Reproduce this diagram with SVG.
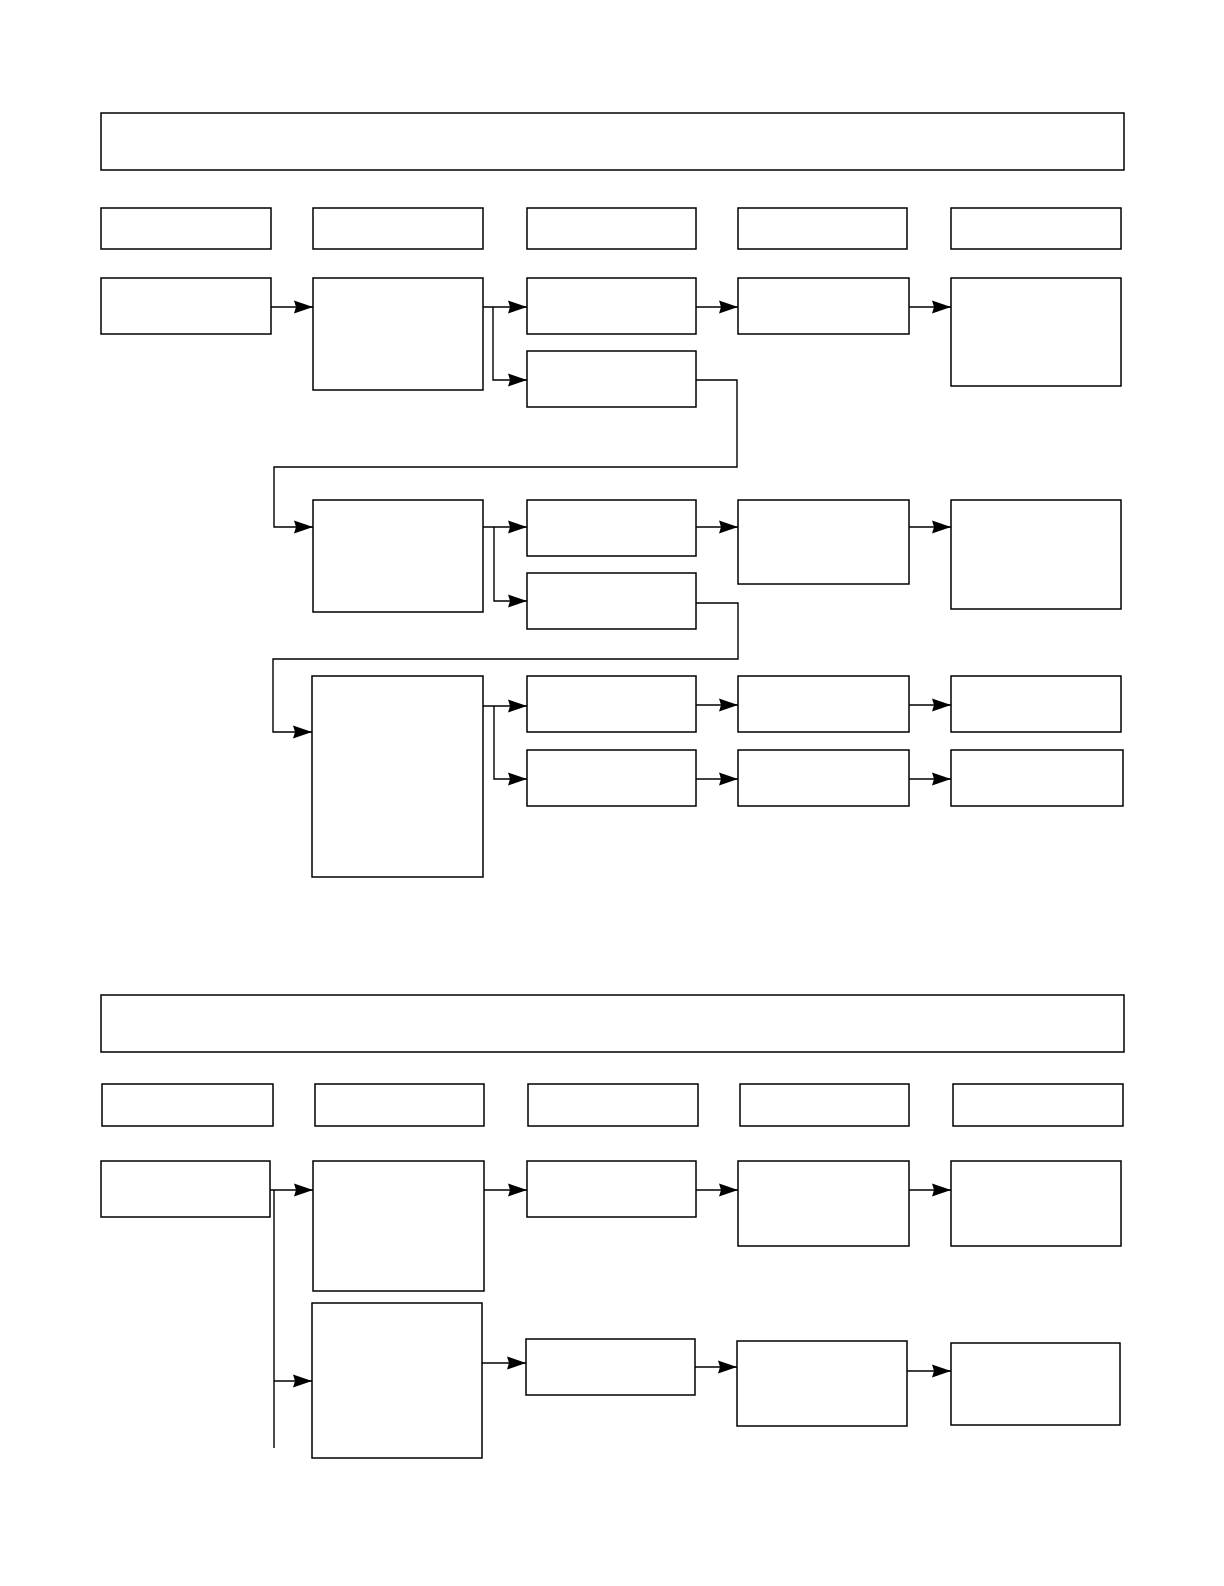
<svg xmlns="http://www.w3.org/2000/svg" width="1224" height="1586" viewBox="0 0 1224 1586">
<style>
.n{fill:#fff;stroke:#000;stroke-width:1.5}
.c{fill:none;stroke:#000;stroke-width:1.4;marker-end:url(#ah)}
.l{fill:none;stroke:#000;stroke-width:1.4}
</style>
<defs>
<marker id="ah" markerUnits="userSpaceOnUse" markerWidth="20" markerHeight="14" refX="19" refY="7" orient="auto" viewBox="0 0 20 14">
<path d="M0,0.5 L19,7 L0,13.5 L2,7 Z" fill="#000"/>
</marker>
</defs>
<rect width="1224" height="1586" fill="#fff"/>
<g id="nodes">
<g id="header1"><rect class="n" x="101" y="113" width="1023" height="57"/></g>
<g id="h1c1"><rect class="n" x="101" y="208" width="170" height="41"/></g>
<g id="h1c2"><rect class="n" x="313" y="208" width="170" height="41"/></g>
<g id="h1c3"><rect class="n" x="527" y="208" width="169" height="41"/></g>
<g id="h1c4"><rect class="n" x="738" y="208" width="169" height="41"/></g>
<g id="h1c5"><rect class="n" x="951" y="208" width="170" height="41"/></g>
<g id="A1"><rect class="n" x="101" y="278" width="170" height="56"/></g>
<g id="B1"><rect class="n" x="313" y="278" width="170" height="112"/></g>
<g id="C1"><rect class="n" x="527" y="278" width="169" height="56"/></g>
<g id="C2"><rect class="n" x="527" y="351" width="169" height="56"/></g>
<g id="D1"><rect class="n" x="738" y="278" width="171" height="56"/></g>
<g id="E1"><rect class="n" x="951" y="278" width="170" height="108"/></g>
<g id="B2"><rect class="n" x="313" y="500" width="170" height="112"/></g>
<g id="C3"><rect class="n" x="527" y="500" width="169" height="56"/></g>
<g id="C4"><rect class="n" x="527" y="573" width="169" height="56"/></g>
<g id="D2"><rect class="n" x="738" y="500" width="171" height="84"/></g>
<g id="E2"><rect class="n" x="951" y="500" width="170" height="109"/></g>
<g id="B3"><rect class="n" x="312" y="676" width="171" height="201"/></g>
<g id="C5"><rect class="n" x="527" y="676" width="169" height="56"/></g>
<g id="C6"><rect class="n" x="527" y="750" width="169" height="56"/></g>
<g id="D3"><rect class="n" x="738" y="676" width="171" height="56"/></g>
<g id="D4"><rect class="n" x="738" y="750" width="171" height="56"/></g>
<g id="E3"><rect class="n" x="951" y="676" width="170" height="56"/></g>
<g id="E4"><rect class="n" x="951" y="750" width="172" height="56"/></g>
<g id="header2"><rect class="n" x="101" y="995" width="1023" height="57"/></g>
<g id="h2c1"><rect class="n" x="102" y="1084" width="171" height="42"/></g>
<g id="h2c2"><rect class="n" x="315" y="1084" width="169" height="42"/></g>
<g id="h2c3"><rect class="n" x="528" y="1084" width="170" height="42"/></g>
<g id="h2c4"><rect class="n" x="740" y="1084" width="169" height="42"/></g>
<g id="h2c5"><rect class="n" x="953" y="1084" width="170" height="42"/></g>
<g id="A2"><rect class="n" x="101" y="1161" width="169" height="56"/></g>
<g id="B4"><rect class="n" x="313" y="1161" width="171" height="130"/></g>
<g id="C7"><rect class="n" x="527" y="1161" width="169" height="56"/></g>
<g id="D5"><rect class="n" x="738" y="1161" width="171" height="85"/></g>
<g id="E5"><rect class="n" x="951" y="1161" width="170" height="85"/></g>
<g id="B5"><rect class="n" x="312" y="1303" width="170" height="155"/></g>
<g id="C8"><rect class="n" x="526" y="1339" width="169" height="56"/></g>
<g id="D6"><rect class="n" x="737" y="1341" width="170" height="85"/></g>
<g id="E6"><rect class="n" x="951" y="1343" width="169" height="82"/></g>
</g>
<g id="connectors">
<path class="c" d="M271 307 H313"/>
<path class="c" d="M483 307 H527"/>
<path class="c" d="M493 307 V380 H527"/>
<path class="c" d="M696 307 H738"/>
<path class="c" d="M909 307 H951"/>
<path class="c" d="M696 380 H737 V467 H274 V527 H313"/>
<path class="c" d="M483 527 H527"/>
<path class="c" d="M494 527 V601 H527"/>
<path class="c" d="M696 527 H738"/>
<path class="c" d="M909 527 H951"/>
<path class="c" d="M696 603 H738 V659 H273 V732 H312"/>
<path class="c" d="M483 706 H527"/>
<path class="c" d="M494 706 V779 H527"/>
<path class="c" d="M696 705 H738"/>
<path class="c" d="M909 705 H951"/>
<path class="c" d="M696 779 H738"/>
<path class="c" d="M909 779 H951"/>
<path class="c" d="M270 1190 H313"/>
<path class="l" d="M274 1190 V1448"/>
<path class="c" d="M274 1381 H312"/>
<path class="c" d="M484 1190 H527"/>
<path class="c" d="M696 1190 H738"/>
<path class="c" d="M909 1190 H951"/>
<path class="c" d="M482 1363 H526"/>
<path class="c" d="M695 1367 H737"/>
<path class="c" d="M907 1371 H951"/>
</g>
</svg>
